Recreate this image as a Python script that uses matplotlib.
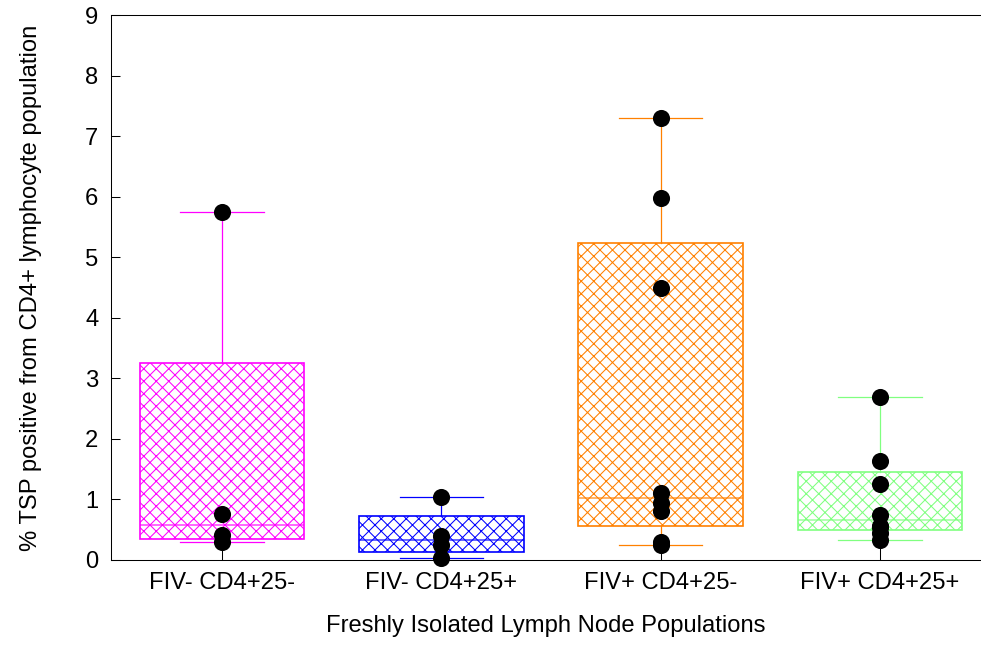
# box plot of TSP positive CD4+ lymph node populations
import numpy as np
import matplotlib
matplotlib.use('Agg')
import matplotlib.pyplot as plt

plt.rcParams['font.family'] = ['Liberation Sans', 'DejaVu Sans']
plt.rcParams['hatch.linewidth'] = 0.5

groups = ['FIV- CD4+25-', 'FIV- CD4+25+', 'FIV+ CD4+25-', 'FIV+ CD4+25+']
colors = ['#ff00ff', '#0000ff', '#ff8000', '#80ff80']

fivneg_25neg = [0.30, 0.41, 0.76, 5.76]
fivneg_25pos = [0.03, 0.25, 0.40, 1.04]
fivpos_25neg = [0.25, 0.30, 0.81, 0.95, 1.11, 4.49, 5.98, 7.31]
fivpos_25pos = [0.33, 0.45, 0.55, 0.57, 0.75, 1.26, 1.64, 2.69]
data = [fivneg_25neg, fivneg_25pos, fivpos_25neg, fivpos_25pos]


def hinge_stats(vals, label):
    # tukey hinges: median of each half
    v = np.sort(np.asarray(vals))
    n = len(v)
    half = (n + 1) // 2
    return {
        'med': np.median(v),
        'q1': np.median(v[:half]),
        'q3': np.median(v[n - half:]),
        'whislo': v.min(),
        'whishi': v.max(),
        'fliers': [],
        'label': label,
    }


stats = [hinge_stats(d, g) for d, g in zip(data, groups)]
positions = np.arange(1, len(groups) + 1)

fig = plt.figure(figsize=(6.54, 4.30), dpi=150)
ax = fig.add_axes([0.1131, 0.1318, 0.8957, 0.8442])

bp = ax.bxp(stats, positions=positions, widths=0.75, capwidths=0.38,
            patch_artist=True, showfliers=False)

for i, c in enumerate(colors):
    box = bp['boxes'][i]
    box.set_facecolor('white')
    box.set_edgecolor(c)
    box.set_hatch('xxxx')
    box.set_linewidth(0.8)
    bp['medians'][i].set_color(c)
    bp['medians'][i].set_linewidth(0.8)
    bp['medians'][i].set_alpha(0.7)
    for ln in bp['whiskers'][2 * i:2 * i + 2] + bp['caps'][2 * i:2 * i + 2]:
        ln.set_color(c)
        ln.set_linewidth(0.6)

for pos, d in zip(positions, data):
    ax.plot([pos] * len(d), d, 'o', color='black', markersize=7.2,
            zorder=5, clip_on=False)

ax.set_xlim(0.494, 4.5)
ax.set_ylim(0, 9)
ax.set_yticks(range(10))
ax.set_xticks(positions)
ax.set_xticklabels(groups)

ax.tick_params(axis='y', direction='in', length=4.5, width=0.5,
               labelsize=11.4, pad=6)
ax.tick_params(axis='x', direction='in', length=6, width=0.5,
               labelsize=11.4, pad=6)
for s in ['left', 'bottom', 'top']:
    ax.spines[s].set_linewidth(0.5)
ax.spines['right'].set_visible(False)

ax.set_ylabel('% TSP positive from CD4+ lymphocyte population', fontsize=11.4)
ax.set_xlabel('Freshly Isolated Lymph Node Populations', fontsize=11.4)
ax.yaxis.set_label_coords(-0.0785, 0.5)
ax.xaxis.set_label_coords(0.495, -0.101)

fig.savefig('out.png', dpi=150)
